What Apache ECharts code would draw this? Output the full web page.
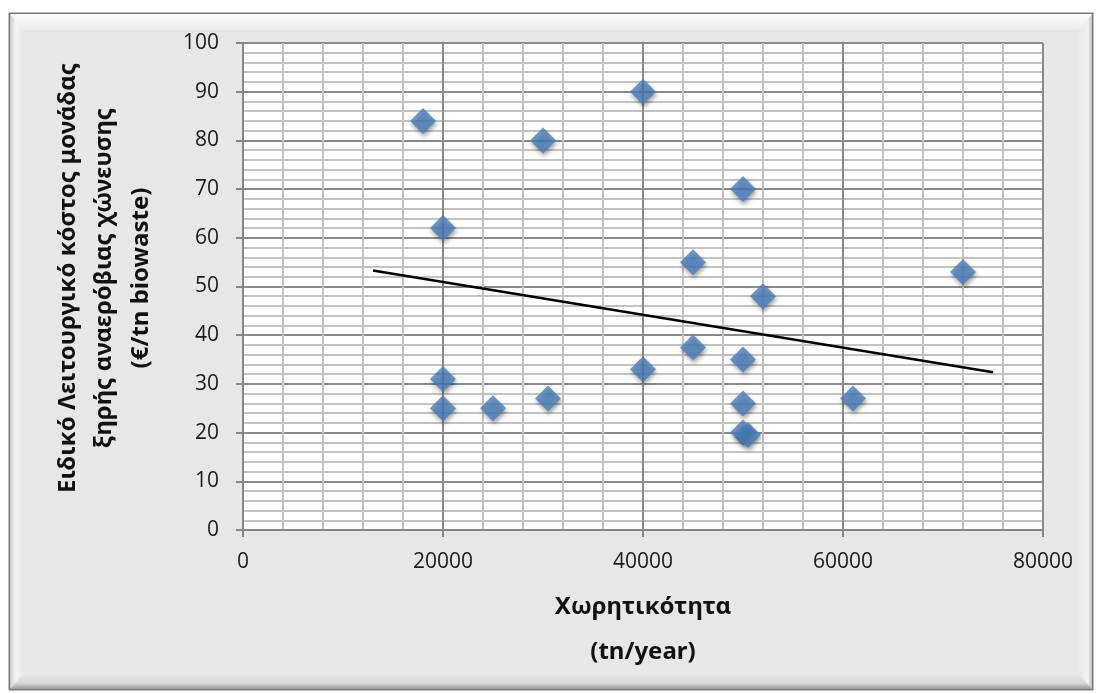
<!DOCTYPE html>
<html>
<head>
<meta charset="utf-8">
<script src="https://cdn.jsdelivr.net/npm/echarts@6/dist/echarts.min.js"></script>
<style>
  html, body { margin: 0; padding: 0; background: #ffffff; }
  #chart { width: 1097px; height: 694px; }
</style>
</head>
<body>
<div id="chart"></div>
<script>
// Plant capacity (tn/year) and specific operating cost (€/tn biowaste)
const capacity = [18000, 20000, 20000, 20000, 25000, 30000, 30500, 40000, 40000, 45000, 45000, 50000, 50000, 50000, 50000, 50500, 52000, 61000, 72000];
const unitCost = [84, 62, 31, 25, 25, 80, 27, 90, 33, 55, 37.5, 70, 35, 26, 20, 19.5, 48, 27, 53];

// Linear trend line end points
const trendX = [13000, 75000];
const trendY = [53.3, 32.4];

const xTitleLines = ['Χωρητικότητα', '(tn/year)'];
const yTitleLines = ['Ειδικό Λειτουργικό κόστος μονάδας', 'ξηρής αναερόβιας χώνευσης', '(€/tn biowaste)'];

const points = capacity.map((x, i) => [x, unitCost[i]]);
const trend = trendX.map((x, i) => [x, trendY[i]]);

const tickFont = { fontFamily: '"Open Sans", "DejaVu Sans", sans-serif', fontSize: 21, color: '#1a1a1a' };
const titleFont = 'bold 24px "Noto Sans", "DejaVu Sans", sans-serif';

const chart = echarts.init(document.getElementById('chart'), null, { renderer: 'canvas' });

chart.setOption({
  backgroundColor: '#ffffff',
  animation: false,
  graphic: [
    // outer frame
    { type: 'rect', z: -10, shape: { x: 9.5, y: 13.5, width: 1083, height: 676 },
      style: { fill: '#e7e7e7', stroke: '#7a7a7a', lineWidth: 2 } },
    // bevel: top highlight
    { type: 'polygon', z: -9, shape: { points: [[10, 14], [1092, 14], [1079, 30], [23, 30]] },
      style: { fill: new echarts.graphic.LinearGradient(0, 0, 0, 1, [
        { offset: 0, color: '#fbfbfb' }, { offset: 1, color: '#ececec' }]) } },
    // bevel: left
    { type: 'polygon', z: -9, shape: { points: [[10, 14], [23, 30], [23, 674], [10, 689]] },
      style: { fill: new echarts.graphic.LinearGradient(0, 0, 1, 0, [
        { offset: 0, color: '#c9c9c9' }, { offset: 0.4, color: '#f4f4f4' }, { offset: 1, color: '#e9e9e9' }]) } },
    // bevel: right
    { type: 'polygon', z: -9, shape: { points: [[1092, 14], [1092, 689], [1079, 674], [1079, 30]] },
      style: { fill: new echarts.graphic.LinearGradient(0, 0, 1, 0, [
        { offset: 0, color: '#e9e9e9' }, { offset: 0.7, color: '#f1f1f1' }, { offset: 1, color: '#bdbdbd' }]) } },
    // bevel: bottom
    { type: 'polygon', z: -9, shape: { points: [[10, 689], [23, 674], [1079, 674], [1092, 689]] },
      style: { fill: new echarts.graphic.LinearGradient(0, 0, 0, 1, [
        { offset: 0, color: '#e7e7e7' }, { offset: 0.6, color: '#d8d8d8' }, { offset: 1, color: '#9a9a9a' }]) } },
    // plot background
    { type: 'rect', z: -5, shape: { x: 243, y: 43, width: 800, height: 487 }, style: { fill: '#ffffff' } },
    // x axis title
    { type: 'text', z: 5, x: 643, y: 607,
      style: { text: xTitleLines[0], font: titleFont, fill: '#111', align: 'center', verticalAlign: 'middle' } },
    { type: 'text', z: 5, x: 643, y: 652,
      style: { text: xTitleLines[1], font: titleFont, fill: '#111', align: 'center', verticalAlign: 'middle' } },
    // y axis title (rotated)
    { type: 'text', z: 5, x: 68, y: 278, rotation: Math.PI / 2,
      style: { text: yTitleLines[0], font: titleFont, fill: '#111', align: 'center', verticalAlign: 'middle' } },
    { type: 'text', z: 5, x: 104, y: 278, rotation: Math.PI / 2,
      style: { text: yTitleLines[1], font: titleFont, fill: '#111', align: 'center', verticalAlign: 'middle' } },
    { type: 'text', z: 5, x: 141, y: 278, rotation: Math.PI / 2,
      style: { text: yTitleLines[2], font: titleFont, fill: '#111', align: 'center', verticalAlign: 'middle' } }
  ],
  grid: { left: 243, top: 43, width: 800, height: 487, containLabel: false },
  xAxis: {
    type: 'value', min: 0, max: 80000, interval: 20000,
    axisLine: { show: true, onZero: false, lineStyle: { color: '#868686', width: 2 } },
    axisTick: { show: true, length: 7, inside: false, lineStyle: { color: '#868686', width: 2 } },
    axisLabel: Object.assign({ margin: 22, formatter: v => String(v) }, tickFont),
    splitLine: { show: true, lineStyle: { color: '#8a8a8a', width: 2 } },
    minorTick: { show: false, splitNumber: 5 },
    minorSplitLine: { show: true, lineStyle: { color: '#c2c2c2', width: 2 } }
  },
  yAxis: {
    type: 'value', min: 0, max: 100, interval: 10,
    axisLine: { show: true, onZero: false, lineStyle: { color: '#868686', width: 2 } },
    axisTick: { show: true, length: 7, inside: false, lineStyle: { color: '#868686', width: 2 } },
    axisLabel: Object.assign({ margin: 24 }, tickFont),
    splitLine: { show: true, lineStyle: { color: '#8a8a8a', width: 2 } },
    minorTick: { show: false, splitNumber: 5 },
    minorSplitLine: { show: true, lineStyle: { color: '#c2c2c2', width: 2 } }
  },
  series: [
    {
      type: 'line', data: trend, symbol: 'none', z: 3,
      lineStyle: { color: '#000000', width: 2.5 }
    },
    {
      type: 'scatter', data: points, symbol: 'diamond', symbolSize: [26, 26], z: 4,
      itemStyle: { color: '#4a7ebb', shadowColor: 'rgba(0,0,0,0.45)', shadowBlur: 4, shadowOffsetX: 1, shadowOffsetY: 3 }
    }
  ]
});
</script>
</body>
</html>
